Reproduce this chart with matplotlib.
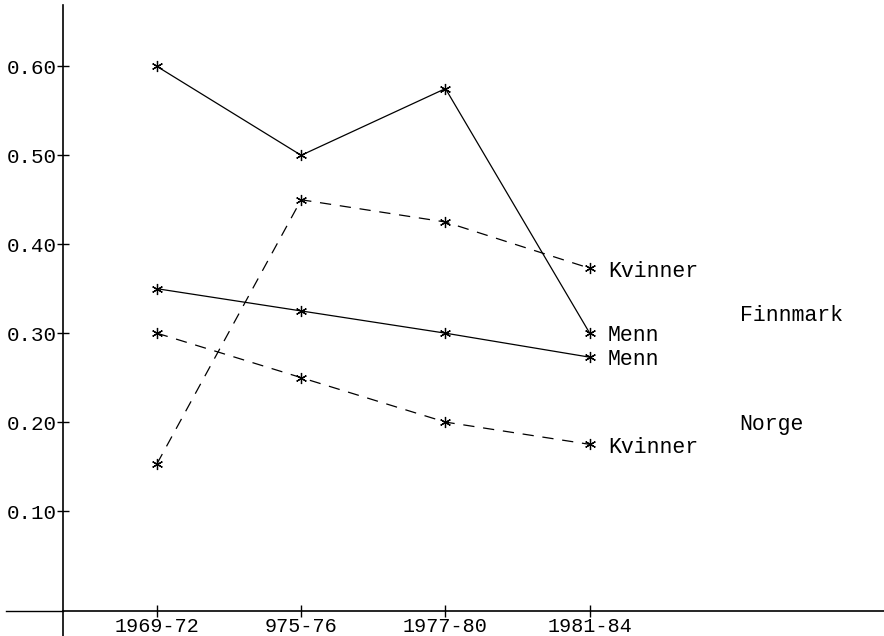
import matplotlib
matplotlib.use("Agg")
import matplotlib.pyplot as plt

periods = ["1969-72", "975-76", "1977-80", "1981-84"]
finnmark_menn = [0.60, 0.50, 0.575, 0.30]
finnmark_kvinner = [0.153, 0.45, 0.425, 0.373]
norge_menn = [0.35, 0.325, 0.30, 0.273]
norge_kvinner = [0.30, 0.25, 0.20, 0.175]
yticks = [0.10, 0.20, 0.30, 0.40, 0.50, 0.60]

FONT = "Liberation Mono"
plt.rcParams["font.family"] = [FONT, "DejaVu Sans Mono"]

fig = plt.figure(figsize=(8.84, 6.36), dpi=100)
ax = fig.add_axes([63 / 884, 25 / 636, 1 - 63 / 884, 606 / 636])

x = list(range(len(periods)))
star = (6, 2, 0)
solid = dict(color="black", lw=0.9, marker=star, ms=8, mew=0.9)
dashed = dict(color="black", lw=0.9, marker=star, ms=8, mew=0.9,
              linestyle=(0, (9, 7)))

ax.plot(x, finnmark_menn, **solid)
ax.plot(x, norge_menn, **solid)
ax.plot(x, finnmark_kvinner, **dashed)
ax.plot(x, norge_kvinner, **dashed)

# series labels at the right end
fs = 15.5
last = x[-1]
for val, txt in [(finnmark_kvinner[-1], "Kvinner"), (finnmark_menn[-1], "Menn"),
                 (norge_menn[-1], "Menn"), (norge_kvinner[-1], "Kvinner")]:
    ax.annotate(txt, (last, val), xytext=(13, -2), textcoords="offset points",
                ha="left", va="center", fontsize=fs)
ax.text(4.04, 0.32, "Finnmark", ha="left", va="center", fontsize=fs)
ax.text(4.04, 0.197, "Norge", ha="left", va="center", fontsize=fs)

ax.set_xlim(-0.651, 5.04)
ax.set_ylim(-0.0124, 0.669)
ax.set_xticks(x)
ax.set_xticklabels(periods, fontsize=14.5)
ax.set_yticks(yticks)
ax.set_yticklabels([f"{v:.2f}" for v in yticks], fontsize=15)
ax.tick_params(axis="y", direction="inout", length=9, width=1, pad=0)
ax.tick_params(axis="x", direction="inout", length=8, width=1, pad=0)

for s in ["top", "right"]:
    ax.spines[s].set_visible(False)
ax.spines["left"].set_linewidth(1.2)
ax.spines["bottom"].set_linewidth(1.2)
# axis lines run a bit past the origin, as on the original
ax.plot([0, 0], [-0.06, 0], transform=ax.transAxes, color="black", lw=1.2, clip_on=False)
ax.plot([-0.07, 0], [0, 0], transform=ax.transAxes, color="black", lw=1.0, clip_on=False)

fig.savefig("out.png", dpi=100, facecolor="white")
